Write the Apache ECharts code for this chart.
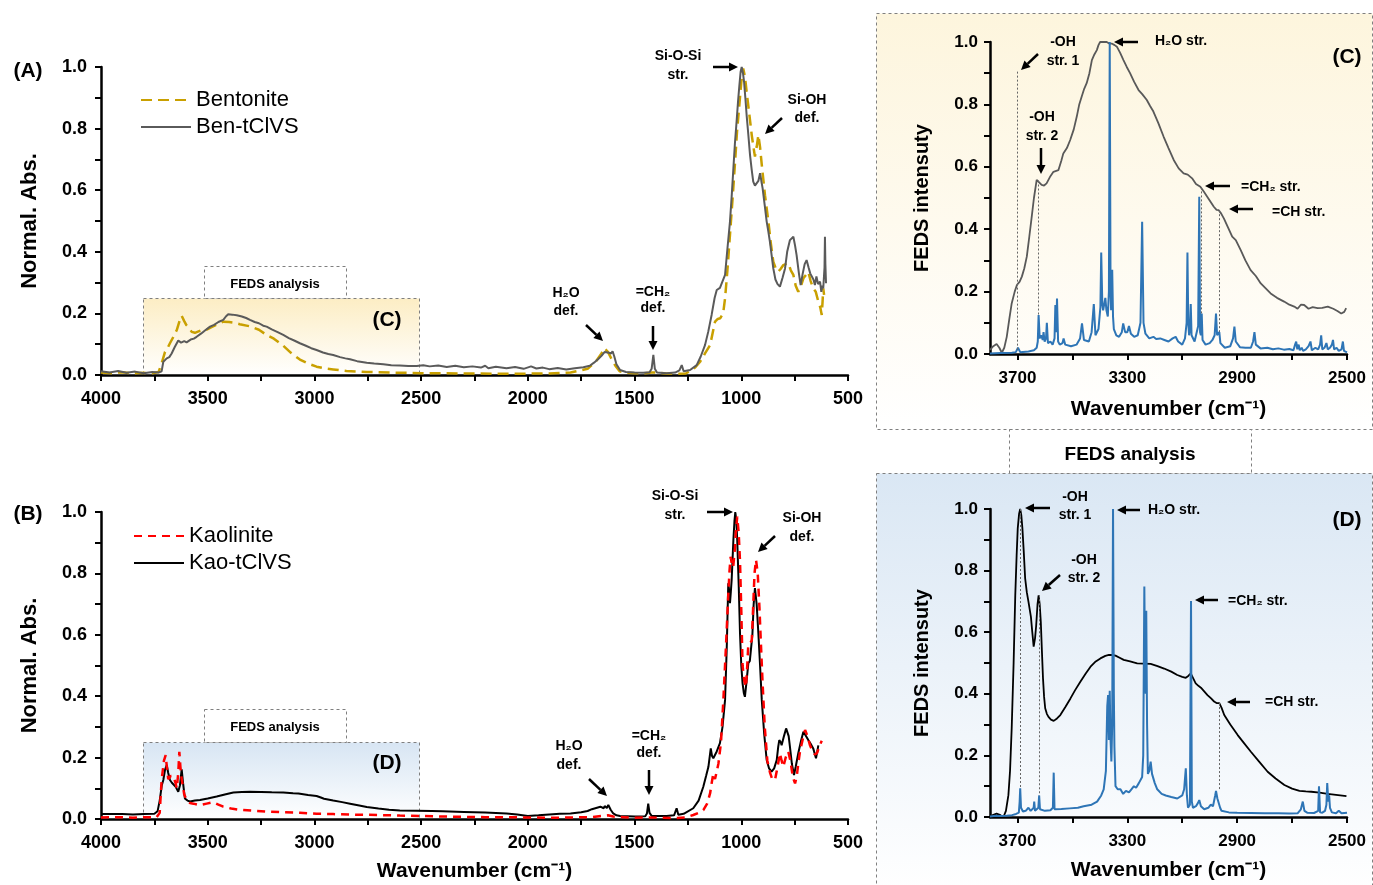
<!DOCTYPE html>
<html>
<head>
<meta charset="utf-8">
<title>FTIR and FEDS spectra</title>
<script src="https://cdn.jsdelivr.net/npm/echarts@6/dist/echarts.min.js"></script>
<style>
  html, body { margin: 0; padding: 0; background: #fff; }
  #chart { width: 1373px; height: 885px; }
</style>
</head>
<body>
<div id="chart"></div>
<script>
// ---- data: [wavenumber (cm-1), normalised value] ----

// (A) FTIR, bentonite
const bentonite = [[4000,0.008],[3950,0.006],[3900,0.009],[3850,0.005],[3800,0.007],[3760,0.006],[3730,0.01],[3715,0.04],[3700,0.075],[3690,0.085],[3677,0.103],[3660,0.125],[3645,0.146],[3632,0.175],[3622,0.192],[3610,0.175],[3600,0.162],[3590,0.155],[3575,0.14],[3560,0.137],[3552,0.135],[3530,0.145],[3505,0.147],[3480,0.156],[3455,0.165],[3427,0.173],[3400,0.172],[3380,0.17],[3350,0.165],[3302,0.158],[3260,0.147],[3224,0.13],[3190,0.118],[3146,0.095],[3110,0.072],[3068,0.05],[3030,0.037],[2990,0.027],[2950,0.021],[2912,0.018],[2850,0.013],[2755,0.01],[2650,0.008],[2500,0.006],[2300,0.005],[2100,0.004],[1900,0.005],[1800,0.008],[1720,0.02],[1680,0.045],[1655,0.07],[1642,0.087],[1625,0.075],[1610,0.055],[1590,0.03],[1570,0.012],[1540,0.008],[1500,0.006],[1450,0.006],[1420,0.008],[1400,0.008],[1350,0.005],[1300,0.004],[1260,0.005],[1240,0.013],[1215,0.025],[1193,0.043],[1170,0.07],[1146,0.097],[1130,0.15],[1123,0.173],[1110,0.182],[1099,0.184],[1085,0.2],[1076,0.249],[1065,0.34],[1053,0.455],[1040,0.58],[1029,0.693],[1020,0.79],[1009,0.877],[1000,0.95],[991,0.995],[983,0.97],[975,0.92],[963,0.85],[951,0.779],[943,0.74],[936,0.709],[928,0.74],[920,0.779],[912,0.74],[904,0.682],[896,0.63],[889,0.584],[873,0.498],[862,0.43],[850,0.368],[838,0.345],[827,0.335],[815,0.345],[803,0.357],[792,0.36],[780,0.363],[768,0.34],[756,0.325],[745,0.29],[733,0.27],[720,0.29],[709,0.314],[697,0.325],[686,0.335],[675,0.305],[663,0.281],[651,0.27],[639,0.238],[630,0.22],[623,0.195],[619,0.24],[616,0.281],[612,0.26]];

// (A) FTIR, Ben-tClVS
const benTClVS = [[4000,0.012],[3960,0.008],[3920,0.013],[3880,0.007],[3840,0.011],[3800,0.006],[3760,0.01],[3730,0.008],[3716,0.012],[3708,0.043],[3692,0.054],[3680,0.058],[3669,0.07],[3655,0.09],[3638,0.112],[3625,0.105],[3610,0.11],[3599,0.106],[3580,0.115],[3565,0.118],[3552,0.124],[3530,0.135],[3510,0.146],[3489,0.157],[3470,0.163],[3450,0.172],[3427,0.179],[3415,0.19],[3404,0.197],[3385,0.196],[3364,0.194],[3340,0.19],[3320,0.185],[3302,0.179],[3280,0.172],[3260,0.168],[3240,0.16],[3224,0.157],[3200,0.148],[3175,0.14],[3146,0.13],[3120,0.12],[3095,0.112],[3068,0.103],[3040,0.095],[3015,0.087],[2990,0.081],[2960,0.073],[2935,0.068],[2912,0.065],[2880,0.058],[2855,0.054],[2833,0.051],[2800,0.045],[2755,0.04],[2720,0.037],[2677,0.035],[2640,0.032],[2600,0.031],[2560,0.029],[2521,0.029],[2490,0.032],[2460,0.028],[2420,0.031],[2380,0.026],[2340,0.03],[2300,0.025],[2260,0.028],[2220,0.024],[2200,0.03],[2185,0.022],[2150,0.027],[2100,0.022],[2060,0.026],[2020,0.02],[1985,0.028],[1960,0.021],[1930,0.024],[1900,0.019],[1860,0.023],[1820,0.018],[1780,0.022],[1740,0.025],[1710,0.03],[1690,0.04],[1670,0.052],[1655,0.062],[1640,0.075],[1631,0.081],[1620,0.072],[1610,0.07],[1603,0.077],[1595,0.06],[1585,0.035],[1568,0.016],[1540,0.01],[1500,0.008],[1460,0.007],[1430,0.009],[1420,0.02],[1412,0.065],[1405,0.02],[1395,0.008],[1350,0.006],[1310,0.008],[1290,0.015],[1279,0.032],[1270,0.012],[1240,0.016],[1209,0.032],[1190,0.06],[1170,0.097],[1155,0.14],[1139,0.195],[1125,0.25],[1115,0.276],[1100,0.283],[1092,0.287],[1076,0.325],[1065,0.41],[1053,0.498],[1045,0.58],[1037,0.671],[1030,0.75],[1022,0.823],[1015,0.89],[1009,0.94],[1003,0.985],[998,1.0],[992,0.98],[987,0.952],[981,0.9],[975,0.844],[967,0.78],[959,0.714],[951,0.665],[944,0.628],[936,0.615],[928,0.611],[920,0.63],[912,0.655],[906,0.63],[900,0.606],[890,0.55],[881,0.498],[873,0.465],[866,0.433],[858,0.39],[850,0.346],[840,0.31],[830,0.295],[819,0.287],[807,0.315],[795,0.346],[785,0.4],[772,0.438],[764,0.44],[756,0.449],[748,0.42],[741,0.39],[730,0.33],[722,0.292],[712,0.33],[703,0.36],[694,0.373],[685,0.35],[677,0.33],[670,0.335],[662,0.31],[655,0.292],[648,0.32],[640,0.295],[631,0.303],[625,0.27],[620,0.29],[616,0.281],[610,0.35],[608,0.449],[606,0.36],[603,0.298]];

// (B) FTIR, kaolinite
const kaolinite = [[4000,0.005],[3900,0.006],[3850,0.004],[3800,0.006],[3740,0.005],[3725,0.02],[3716,0.127],[3705,0.19],[3697,0.208],[3690,0.16],[3685,0.13],[3673,0.14],[3661,0.14],[3650,0.115],[3645,0.1],[3638,0.15],[3633,0.219],[3628,0.17],[3622,0.13],[3610,0.08],[3599,0.062],[3583,0.052],[3567,0.05],[3536,0.045],[3505,0.05],[3474,0.055],[3450,0.047],[3427,0.04],[3390,0.034],[3349,0.03],[3290,0.027],[3224,0.024],[3150,0.022],[3068,0.02],[2990,0.017],[2912,0.016],[2800,0.014],[2700,0.013],[2600,0.011],[2500,0.01],[2400,0.008],[2300,0.007],[2200,0.006],[2100,0.006],[2000,0.005],[1900,0.004],[1800,0.005],[1700,0.006],[1650,0.01],[1625,0.012],[1600,0.008],[1500,0.004],[1430,0.005],[1300,0.003],[1260,0.005],[1225,0.013],[1200,0.02],[1178,0.029],[1160,0.05],[1146,0.084],[1138,0.12],[1131,0.149],[1123,0.13],[1115,0.155],[1107,0.181],[1095,0.25],[1084,0.388],[1072,0.56],[1061,0.73],[1055,0.81],[1050,0.854],[1044,0.83],[1038,0.82],[1030,0.88],[1025,0.94],[1019,0.985],[1012,0.93],[1006,0.84],[1000,0.68],[994,0.5],[986,0.45],[978,0.43],[972,0.5],[967,0.57],[958,0.575],[951,0.58],[945,0.68],[938,0.8],[931,0.844],[923,0.8],[915,0.69],[908,0.57],[900,0.44],[890,0.3],[878,0.19],[865,0.15],[855,0.13],[842,0.127],[830,0.17],[819,0.214],[811,0.19],[803,0.17],[792,0.2],[780,0.22],[770,0.19],[758,0.135],[748,0.116],[740,0.14],[733,0.18],[725,0.22],[712,0.26],[701,0.29],[690,0.27],[678,0.24],[666,0.22],[655,0.21],[645,0.215],[635,0.235],[623,0.255]];

// (B) FTIR, Kao-tClVS
const kaoTClVS = [[4000,0.016],[3900,0.016],[3850,0.015],[3800,0.016],[3750,0.017],[3735,0.025],[3725,0.06],[3715,0.11],[3708,0.127],[3700,0.16],[3692,0.176],[3685,0.15],[3677,0.127],[3668,0.118],[3661,0.12],[3650,0.105],[3638,0.089],[3630,0.11],[3622,0.162],[3616,0.12],[3607,0.067],[3595,0.06],[3583,0.057],[3560,0.06],[3536,0.062],[3500,0.067],[3458,0.073],[3420,0.08],[3380,0.086],[3340,0.088],[3302,0.089],[3250,0.088],[3200,0.087],[3146,0.086],[3100,0.084],[3075,0.083],[3071,0.088],[3066,0.082],[3030,0.078],[2990,0.075],[2970,0.07],[2962,0.074],[2955,0.066],[2912,0.06],[2870,0.055],[2833,0.05],[2790,0.044],[2755,0.039],[2700,0.034],[2650,0.03],[2600,0.028],[2521,0.027],[2450,0.026],[2400,0.025],[2300,0.023],[2200,0.021],[2100,0.018],[2050,0.015],[2000,0.01],[1950,0.012],[1900,0.015],[1850,0.017],[1800,0.018],[1750,0.022],[1720,0.026],[1700,0.032],[1680,0.036],[1660,0.04],[1645,0.035],[1640,0.042],[1630,0.036],[1623,0.046],[1612,0.03],[1600,0.018],[1585,0.012],[1568,0.01],[1500,0.008],[1450,0.009],[1442,0.018],[1436,0.05],[1430,0.02],[1420,0.01],[1350,0.01],[1315,0.012],[1303,0.035],[1295,0.014],[1270,0.017],[1225,0.035],[1200,0.06],[1178,0.105],[1165,0.14],[1154,0.17],[1143,0.23],[1137,0.205],[1131,0.198],[1115,0.22],[1100,0.247],[1088,0.3],[1076,0.388],[1068,0.56],[1061,0.768],[1056,0.74],[1053,0.703],[1049,0.74],[1045,0.78],[1037,0.909],[1032,0.97],[1028,1.0],[1023,0.97],[1019,0.909],[1012,0.76],[1006,0.605],[1000,0.5],[994,0.442],[988,0.41],[983,0.398],[975,0.45],[967,0.507],[960,0.515],[956,0.52],[948,0.6],[942,0.7],[936,0.752],[928,0.7],[920,0.605],[912,0.5],[904,0.388],[893,0.28],[881,0.192],[870,0.165],[858,0.154],[846,0.165],[834,0.192],[827,0.235],[822,0.257],[815,0.25],[811,0.24],[800,0.27],[790,0.295],[785,0.3],[778,0.27],[772,0.235],[763,0.18],[753,0.143],[745,0.17],[733,0.214],[720,0.255],[709,0.284],[697,0.27],[686,0.257],[675,0.245],[663,0.23],[650,0.198],[644,0.22],[639,0.24]];

// (C) FEDS, Ben-tClVS measured band
const benFeds = [[3800,0.013],[3788,0.025],[3776,0.032],[3766,0.02],[3757,0.004],[3748,0.02],[3739,0.055],[3730,0.11],[3721,0.162],[3710,0.2],[3702,0.221],[3692,0.232],[3684,0.248],[3675,0.275],[3666,0.312],[3657,0.375],[3648,0.44],[3640,0.5],[3630,0.558],[3621,0.55],[3612,0.542],[3603,0.54],[3594,0.547],[3580,0.57],[3569,0.584],[3551,0.589],[3540,0.62],[3533,0.643],[3520,0.66],[3508,0.686],[3495,0.72],[3484,0.761],[3475,0.8],[3466,0.825],[3457,0.85],[3448,0.868],[3438,0.9],[3429,0.942],[3420,0.96],[3411,0.974],[3405,0.99],[3399,1.0],[3387,1.0],[3375,1.0],[3366,0.995],[3357,0.995],[3346,0.99],[3338,0.985],[3326,0.965],[3314,0.942],[3302,0.92],[3290,0.9],[3275,0.872],[3259,0.846],[3245,0.832],[3229,0.814],[3217,0.795],[3205,0.777],[3187,0.74],[3168,0.697],[3150,0.66],[3131,0.622],[3113,0.595],[3095,0.579],[3080,0.575],[3064,0.563],[3050,0.545],[3034,0.536],[3021,0.52],[3009,0.504],[2997,0.488],[2985,0.472],[2975,0.462],[2967,0.461],[2958,0.45],[2948,0.434],[2933,0.405],[2918,0.376],[2905,0.365],[2887,0.333],[2870,0.3],[2851,0.269],[2832,0.25],[2814,0.226],[2796,0.21],[2778,0.194],[2755,0.18],[2729,0.168],[2710,0.158],[2692,0.152],[2680,0.145],[2668,0.158],[2656,0.157],[2640,0.145],[2625,0.15],[2607,0.147],[2590,0.148],[2570,0.152],[2550,0.145],[2535,0.138],[2521,0.13],[2510,0.135],[2503,0.147]];

// (C) FEDS, computed spectrum
const benCalc = [[3800,0.002],[3760,0.003],[3720,0.004],[3706,0.006],[3698,0.02],[3690,0.006],[3660,0.008],[3640,0.012],[3630,0.02],[3626,0.04],[3623,0.125],[3619,0.05],[3614,0.06],[3611,0.065],[3608,0.045],[3605,0.07],[3601,0.04],[3596,0.05],[3593,0.1],[3589,0.035],[3580,0.04],[3572,0.03],[3565,0.05],[3562,0.157],[3559,0.07],[3556,0.178],[3552,0.04],[3546,0.03],[3536,0.035],[3532,0.05],[3526,0.03],[3505,0.025],[3485,0.03],[3472,0.05],[3465,0.098],[3458,0.045],[3440,0.04],[3430,0.07],[3422,0.16],[3416,0.06],[3405,0.08],[3398,0.15],[3395,0.325],[3391,0.16],[3388,0.14],[3384,0.16],[3380,0.18],[3376,0.14],[3371,0.12],[3367,0.2],[3364,1.0],[3361,0.2],[3359,0.14],[3355,0.27],[3352,0.12],[3349,0.08],[3340,0.06],[3330,0.055],[3320,0.07],[3315,0.098],[3308,0.07],[3300,0.07],[3294,0.09],[3287,0.065],[3275,0.055],[3262,0.06],[3252,0.1],[3246,0.424],[3241,0.1],[3234,0.065],[3220,0.05],[3205,0.055],[3195,0.048],[3180,0.05],[3165,0.045],[3150,0.04],[3135,0.05],[3124,0.055],[3115,0.04],[3100,0.03],[3090,0.05],[3084,0.1],[3081,0.325],[3078,0.1],[3075,0.06],[3072,0.08],[3069,0.16],[3066,0.06],[3055,0.04],[3048,0.035],[3042,0.09],[3038,0.504],[3035,0.07],[3032,0.06],[3029,0.13],[3026,0.045],[3015,0.03],[3000,0.035],[2990,0.045],[2982,0.06],[2977,0.13],[2973,0.06],[2968,0.06],[2965,0.07],[2961,0.035],[2945,0.02],[2925,0.025],[2915,0.05],[2910,0.088],[2905,0.04],[2890,0.022],[2870,0.02],[2850,0.02],[2842,0.04],[2837,0.07],[2832,0.03],[2815,0.018],[2790,0.02],[2770,0.015],[2750,0.018],[2730,0.014],[2710,0.016],[2695,0.012],[2689,0.03],[2685,0.04],[2681,0.015],[2676,0.03],[2672,0.012],[2665,0.02],[2660,0.01],[2650,0.015],[2640,0.025],[2633,0.04],[2628,0.012],[2615,0.02],[2605,0.015],[2598,0.03],[2594,0.06],[2590,0.015],[2582,0.02],[2575,0.035],[2570,0.015],[2562,0.02],[2555,0.03],[2551,0.045],[2547,0.015],[2538,0.02],[2530,0.01],[2520,0.015],[2515,0.04],[2511,0.01],[2500,0.005]];

// (D) FEDS, Kao-tClVS measured band
const kaoFeds = [[3800,0.001],[3790,0.006],[3776,0.011],[3762,0.006],[3751,0.0],[3742,0.02],[3733,0.071],[3727,0.15],[3721,0.288],[3714,0.5],[3708,0.72],[3703,0.85],[3699,0.937],[3694,0.985],[3690,1.0],[3686,0.98],[3682,0.937],[3677,0.86],[3672,0.775],[3666,0.73],[3660,0.699],[3651,0.65],[3646,0.6],[3641,0.553],[3636,0.58],[3632,0.62],[3627,0.69],[3623,0.72],[3619,0.69],[3615,0.634],[3611,0.54],[3607,0.45],[3603,0.39],[3599,0.353],[3593,0.335],[3587,0.325],[3578,0.316],[3568,0.312],[3556,0.32],[3544,0.331],[3525,0.358],[3507,0.385],[3490,0.412],[3471,0.439],[3452,0.465],[3434,0.488],[3415,0.505],[3398,0.515],[3380,0.523],[3367,0.526],[3355,0.526],[3343,0.524],[3328,0.517],[3313,0.51],[3290,0.505],[3264,0.499],[3240,0.498],[3215,0.497],[3190,0.49],[3166,0.482],[3140,0.472],[3118,0.461],[3100,0.455],[3087,0.452],[3078,0.458],[3069,0.466],[3060,0.45],[3051,0.434],[3040,0.425],[3032,0.42],[3020,0.408],[3008,0.396],[2995,0.385],[2984,0.375],[2975,0.37],[2965,0.37],[2957,0.355],[2947,0.331],[2925,0.3],[2898,0.266],[2875,0.24],[2850,0.212],[2820,0.18],[2789,0.147],[2760,0.125],[2728,0.104],[2700,0.092],[2673,0.085],[2650,0.083],[2630,0.082],[2600,0.079],[2570,0.075],[2540,0.072],[2502,0.068]];

// (D) FEDS, computed spectrum
const kaoCalc = [[3800,0.002],[3780,0.004],[3760,0.003],[3740,0.004],[3720,0.006],[3705,0.01],[3695,0.014],[3692,0.05],[3690,0.093],[3687,0.03],[3680,0.018],[3670,0.02],[3660,0.03],[3652,0.02],[3645,0.018],[3641,0.03],[3639,0.05],[3636,0.02],[3630,0.022],[3624,0.03],[3621,0.07],[3618,0.025],[3600,0.02],[3580,0.022],[3571,0.03],[3568,0.144],[3565,0.025],[3540,0.026],[3510,0.028],[3480,0.03],[3459,0.035],[3430,0.04],[3410,0.05],[3395,0.07],[3386,0.09],[3378,0.15],[3373,0.36],[3370,0.396],[3367,0.25],[3364,0.41],[3361,0.25],[3358,0.18],[3355,0.3],[3352,1.0],[3349,0.4],[3347,0.23],[3343,0.1],[3335,0.09],[3325,0.09],[3315,0.075],[3305,0.085],[3294,0.08],[3285,0.09],[3276,0.1],[3268,0.095],[3258,0.11],[3246,0.13],[3242,0.2],[3238,0.748],[3235,0.45],[3233,0.4],[3231,0.67],[3228,0.3],[3225,0.14],[3220,0.15],[3215,0.18],[3210,0.14],[3200,0.11],[3191,0.09],[3175,0.075],[3160,0.07],[3140,0.065],[3118,0.06],[3100,0.07],[3093,0.09],[3087,0.158],[3083,0.07],[3079,0.03],[3072,0.04],[3068,0.701],[3065,0.05],[3061,0.03],[3050,0.035],[3043,0.045],[3038,0.055],[3032,0.035],[3020,0.025],[3005,0.03],[2996,0.04],[2988,0.035],[2980,0.07],[2977,0.085],[2972,0.06],[2966,0.065],[2962,0.03],[2957,0.02],[2930,0.015],[2900,0.014],[2850,0.013],[2800,0.012],[2750,0.012],[2710,0.011],[2680,0.012],[2668,0.025],[2661,0.05],[2655,0.02],[2645,0.014],[2620,0.013],[2605,0.02],[2602,0.1],[2598,0.015],[2590,0.014],[2580,0.02],[2575,0.04],[2572,0.11],[2568,0.05],[2565,0.07],[2562,0.03],[2555,0.015],[2540,0.012],[2530,0.02],[2520,0.012],[2500,0.014]];

// dashed guides: [wavenumber, top, bottom]
const cGuides = [[3700, 0.905, 0.012], [3626, 0.556, 0.125], [3032, 0.534, 0.13], [2966, 0.461, 0.07]];
const dGuides = [[3690, 1.0, 0.093], [3622, 0.72, 0.07], [2966, 0.37, 0.085]];

// tick positions
const ftirLabels = [4000, 3500, 3000, 2500, 2000, 1500, 1000, 500];
const ftirTicks = [4000, 3750, 3500, 3250, 3000, 2750, 2500, 2250, 2000, 1750, 1500, 1250, 1000, 750, 500];
const fedsLabels = [3700, 3300, 2900, 2500];
const fedsTicks = [3700, 3500, 3300, 3100, 2900, 2700, 2500];
const yLabels = [0, 0.2, 0.4, 0.6, 0.8, 1.0];
const yTicks = [0, 0.1, 0.2, 0.3, 0.4, 0.5, 0.6, 0.7, 0.8, 0.9, 1.0];

const FONT = 'Liberation Sans, Arial, Helvetica, sans-serif';
const chart = echarts.init(document.getElementById('chart'));

function xAx(grid, min, max, labels, ticks, size, margin, name, gap) {
  return {
    gridIndex: grid, type: 'value', min: min, max: max, inverse: true,
    name: name || '', nameLocation: 'middle', nameGap: gap || 0,
    nameTextStyle: { color: '#000', fontSize: 21, fontWeight: 'bold', fontFamily: FONT },
    axisLine: { show: true, onZero: false, lineStyle: { color: '#000', width: 2.5 } },
    axisTick: { show: true, length: 6, lineStyle: { color: '#000', width: 2 }, customValues: ticks },
    axisLabel: { color: '#000', fontSize: size, fontWeight: 'bold', fontFamily: FONT, margin: margin,
      customValues: labels, formatter: v => String(v) },
    splitLine: { show: false }
  };
}

function yAx(grid, name, size, gap, margin) {
  return {
    gridIndex: grid, type: 'value', min: 0, max: 1,
    name: name, nameLocation: 'middle', nameGap: gap,
    nameTextStyle: { color: '#000', fontSize: grid < 2 ? 22 : 20, fontWeight: 'bold', fontFamily: FONT },
    axisLine: { show: true, onZero: false, lineStyle: { color: '#000', width: 2.5 } },
    axisTick: { show: true, length: 6, lineStyle: { color: '#000', width: 2 }, customValues: yTicks },
    axisLabel: { color: '#000', fontSize: size, fontWeight: 'bold', fontFamily: FONT, margin: margin,
      customValues: yLabels, formatter: v => v.toFixed(1) },
    splitLine: { show: false }
  };
}

function line(name, data, xi, color, width, dash, extra) {
  return Object.assign({
    name: name, type: 'line', xAxisIndex: xi, yAxisIndex: xi, data: data,
    symbol: 'none', showSymbol: false, animation: false,
    lineStyle: { color: color, width: width, type: dash || 'solid' },
    itemStyle: { color: color }
  }, extra || {});
}

function guides(list) {
  return {
    silent: true, symbol: ['none', 'none'], label: { show: false }, animation: false,
    lineStyle: { color: '#666', width: 1, type: [2, 2] },
    data: list.map(g => [{ coord: [g[0], g[1]] }, { coord: [g[0], g[2]] }])
  };
}

// annotation helpers (pixel positions)
function txt(x, y, text, size, align, lh) {
  return {
    type: 'text', x: x, y: y, z: 100,
    style: { text: text, fill: '#000', font: 'bold ' + size + 'px ' + FONT,
      align: align || 'center', textAlign: align || 'center',
      verticalAlign: 'middle', textVerticalAlign: 'middle', lineHeight: lh || 18 }
  };
}

function arrow(x1, y1, x2, y2) {
  const a = Math.atan2(y2 - y1, x2 - x1), L = 9, W = 4.5;
  const bx = x2 - L * Math.cos(a), by = y2 - L * Math.sin(a);
  return [
    { type: 'line', z: 100, shape: { x1: x1, y1: y1, x2: bx, y2: by }, style: { stroke: '#000', lineWidth: 2.5 } },
    { type: 'polygon', z: 100, shape: { points: [[x2, y2], [bx - W * Math.sin(a), by + W * Math.cos(a)], [bx + W * Math.sin(a), by - W * Math.cos(a)]] },
      style: { fill: '#000' } }
  ];
}

function box(x, y, w, h, top, bottom) {
  return {
    type: 'rect', z: -10, shape: { x: x + 0.5, y: y + 0.5, width: w, height: h },
    style: {
      fill: top ? new echarts.graphic.LinearGradient(0, 0, 0, 1, [{ offset: 0, color: top }, { offset: 1, color: bottom }]) : '#fff',
      stroke: '#7f7f7f', lineWidth: 1, lineDash: [3, 3]
    }
  };
}

const graphics = [
  // panel backgrounds
  box(876, 13, 496, 416, '#FDF5DD', '#FFFFFF'),
  box(876, 473, 496, 420, '#DAE7F4', '#FFFFFF'),
  box(1009, 429, 242, 44),
  box(143, 298, 276, 77, '#FCEDC4', '#FFFFFF'),
  box(204, 266, 142, 32),
  box(143, 742, 276, 77, '#D7E5F3', '#FFFFFF'),
  box(204, 709, 142, 33),
  txt(1130, 455, 'FEDS analysis', 19),
  txt(275, 284, 'FEDS analysis', 13),
  txt(275, 727, 'FEDS analysis', 13),
  txt(387, 320, '(C)', 21),
  txt(387, 763, '(D)', 21),
  txt(28, 71, '(A)', 21),
  txt(28, 514, '(B)', 21),
  txt(1347, 57, '(C)', 21),
  txt(1347, 520, '(D)', 21),
  // (A) labels
  txt(678, 66, 'Si-O-Si\nstr.', 14, 'center', 19),
  txt(807, 109, 'Si-OH\ndef.', 14, 'center', 18),
  txt(566, 302, 'H₂O\ndef.', 14, 'center', 18),
  txt(653, 300, '=CH₂\ndef.', 14, 'center', 16),
  // (B) labels
  txt(675, 506, 'Si-O-Si\nstr.', 14, 'center', 19),
  txt(802, 528, 'Si-OH\ndef.', 14, 'center', 19),
  txt(569, 756, 'H₂O\ndef.', 14, 'center', 19),
  txt(649, 745, '=CH₂\ndef.', 14, 'center', 17),
  // (C) labels
  txt(1063, 52, '-OH\nstr. 1', 14, 'center', 19),
  txt(1042, 127, '-OH\nstr. 2', 14, 'center', 19),
  txt(1155, 41, 'H₂O str.', 14, 'left'),
  txt(1241, 187, '=CH₂ str.', 14, 'left'),
  txt(1272, 212, '=CH str.', 14, 'left'),
  // (D) labels
  txt(1075, 506, '-OH\nstr. 1', 14, 'center', 18),
  txt(1084, 569, '-OH\nstr. 2', 14, 'center', 18),
  txt(1148, 510, 'H₂O str.', 14, 'left'),
  txt(1228, 601, '=CH₂ str.', 14, 'left'),
  txt(1265, 702, '=CH str.', 14, 'left')
].concat(
  arrow(713, 67, 738, 67), arrow(782, 118, 765, 134), arrow(586, 325, 603, 341), arrow(653, 326, 653, 350),
  arrow(707, 512, 733, 512), arrow(775, 536, 758, 552), arrow(589, 779, 607, 796), arrow(649, 770, 649, 795),
  arrow(1038, 54, 1021, 70), arrow(1041, 148, 1041, 174), arrow(1138, 42, 1114, 42), arrow(1230, 186, 1205, 186), arrow(1253, 209, 1229, 209),
  arrow(1050, 508, 1025, 508), arrow(1060, 575, 1042, 591), arrow(1140, 510, 1117, 510), arrow(1218, 600, 1195, 600), arrow(1250, 702, 1227, 702)
);

// legend: line only, no marker
const legendBase = {
  orient: 'vertical', itemWidth: 50, itemHeight: 14, itemGap: 5, selectedMode: false,
  itemStyle: { color: 'rgba(0,0,0,0)', borderWidth: 0, opacity: 0 },
  textStyle: { fontSize: 22, color: '#000', fontFamily: FONT }
};

const option = {
  backgroundColor: '#fff',
  animation: false,
  textStyle: { fontFamily: FONT },
  grid: [
    { left: 101, top: 67, width: 747, height: 308, outerBoundsMode: 'none' },
    { left: 101, top: 512, width: 747, height: 307, outerBoundsMode: 'none' },
    { left: 990, top: 42, width: 357, height: 312, outerBoundsMode: 'none' },
    { left: 990, top: 509, width: 357, height: 308, outerBoundsMode: 'none' }
  ],
  xAxis: [
    xAx(0, 500, 4000, ftirLabels, ftirTicks, 18, 15),
    xAx(1, 500, 4000, ftirLabels, ftirTicks, 18, 15, 'Wavenumber (cm⁻¹)', 42),
    xAx(2, 2500, 3800, fedsLabels, fedsTicks, 17, 16, 'Wavenumber (cm⁻¹)', 45),
    xAx(3, 2500, 3800, fedsLabels, fedsTicks, 17, 16, 'Wavenumber (cm⁻¹)', 43)
  ],
  yAxis: [
    yAx(0, 'Normal. Abs.', 18, 60, 14),
    yAx(1, 'Normal. Abs.', 18, 60, 14),
    yAx(2, 'FEDS intensuty', 17, 58, 12),
    yAx(3, 'FEDS intensuty', 17, 58, 12)
  ],
  legend: [
    Object.assign({ data: ['Bentonite', 'Ben-tClVS'], left: 135, top: 84 }, legendBase),
    Object.assign({ data: ['Kaolinite', 'Kao-tClVS'], left: 128, top: 520 }, legendBase)
  ],
  graphic: { elements: graphics },
  series: [
    line('Bentonite', bentonite, 0, '#C9A000', 2.5, [11, 6]),
    line('Ben-tClVS', benTClVS, 0, '#5A5A5A', 2),
    line('Kao-tClVS', kaoTClVS, 1, '#000000', 2),
    line('Kaolinite', kaolinite, 1, '#FF0000', 2.5, [8, 6]),
    line('Ben FEDS', benFeds, 2, '#595959', 1.8, null, { markLine: guides(cGuides) }),
    line('Ben calc', benCalc, 2, '#2E75B6', 2),
    line('Kao FEDS', kaoFeds, 3, '#000000', 1.8, null, { markLine: guides(dGuides) }),
    line('Kao calc', kaoCalc, 3, '#2E75B6', 2)
  ]
};

chart.setOption(option);
</script>
</body>
</html>
